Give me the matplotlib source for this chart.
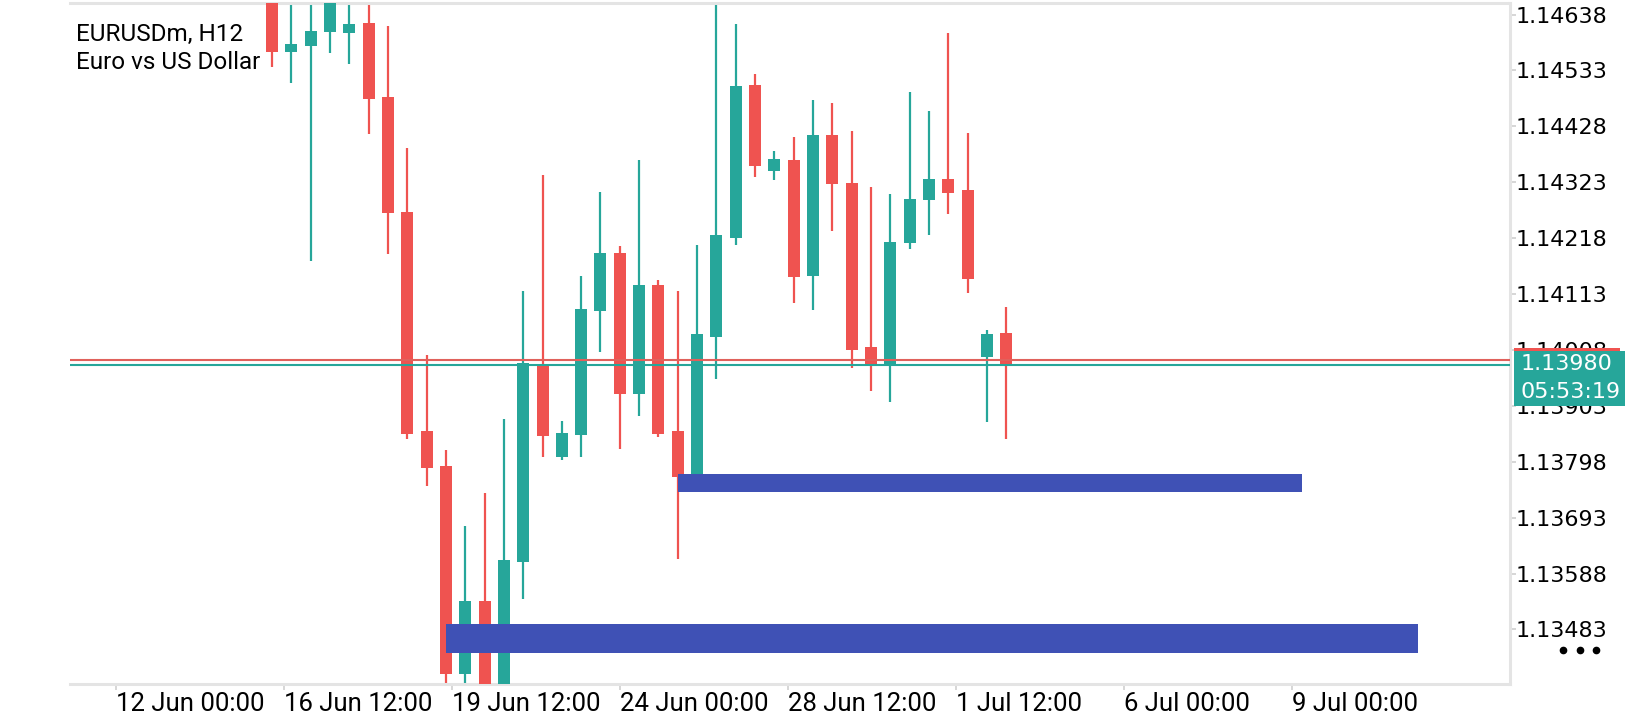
import matplotlib
matplotlib.use("Agg")
import matplotlib.pyplot as plt
from matplotlib.patches import Rectangle
from matplotlib.lines import Line2D

# EURUSDm H12 candles, oldest first (the view cuts some of them at top/bottom)
opens = [1.14675, 1.14568, 1.14579, 1.14605, 1.14603, 1.14622, 1.14483, 1.14267, 1.13856, 1.13790,
         1.13399, 1.13537, 1.13351, 1.13610, 1.13980, 1.13807, 1.13848, 1.14081, 1.14190, 1.13925,
         1.14130, 1.13856, 1.13771, 1.14032, 1.14218, 1.14506, 1.14344, 1.14365, 1.14147, 1.14412,
         1.14322, 1.14014, 1.13980, 1.14209, 1.14290, 1.14329, 1.14308, 1.13995, 1.14040]
highs = [1.14693, 1.14684, 1.14684, 1.14688, 1.14680, 1.14675, 1.14616, 1.14387, 1.13999, 1.13820,
         1.13677, 1.13739, 1.13878, 1.14119, 1.14337, 1.13875, 1.14147, 1.14305, 1.14203, 1.14365,
         1.14139, 1.14119, 1.14205, 1.14656, 1.14620, 1.14526, 1.14382, 1.14408, 1.14477, 1.14472,
         1.14419, 1.14314, 1.14301, 1.14492, 1.14457, 1.14603, 1.14415, 1.14046, 1.14089]
lows = [1.14539, 1.14509, 1.14175, 1.14566, 1.14545, 1.14414, 1.14188, 1.13841, 1.13753, 1.13373,
        1.13377, 1.13341, 1.13332, 1.13540, 1.13807, 1.13801, 1.13807, 1.14004, 1.13822, 1.13884,
        1.13845, 1.13615, 1.13768, 1.13953, 1.14205, 1.14333, 1.14327, 1.14096, 1.14083, 1.14231,
        1.13974, 1.13931, 1.13910, 1.14198, 1.14224, 1.14263, 1.14115, 1.13873, 1.13841]
closes = [1.14568, 1.14583, 1.14607, 1.14669, 1.14620, 1.14479, 1.14265, 1.13850, 1.13786, 1.13399,
          1.13537, 1.13351, 1.13614, 1.13984, 1.13846, 1.13852, 1.14085, 1.14190, 1.13925, 1.14130,
          1.13850, 1.13769, 1.14038, 1.14224, 1.14504, 1.14353, 1.14367, 1.14145, 1.14412, 1.14320,
          1.14008, 1.13980, 1.14211, 1.14292, 1.14329, 1.14303, 1.14141, 1.14038, 1.13980]

# blue zones (bar index from / to, price low / high)
zone_start = [21.0, 9.0]
zone_end = [53.3, 59.3]
zone_low = [1.13741, 1.13439]
zone_high = [1.13775, 1.13493]

bid = 1.13980
ask = 1.13989
countdown = "05:53:19"

price_ticks = [1.14638, 1.14533, 1.14428, 1.14323, 1.14218, 1.14113,
               1.14008, 1.13903, 1.13798, 1.13693, 1.13588, 1.13483]
time_labels = ["12 Jun 00:00", "16 Jun 12:00", "19 Jun 12:00", "24 Jun 00:00",
               "28 Jun 12:00", "1 Jul 12:00", "6 Jul 00:00", "9 Jul 00:00"]
time_ticks = [-8.1, 0.6, 9.3, 18.0, 26.7, 35.4, 44.1, 52.8]

UP = "#26A69A"
DOWN = "#EF5350"
ZONE = "#3F51B5"
GRID = "#E4E4E4"

W, H = 1640, 720
fig = plt.figure(figsize=(W / 100, H / 100), dpi=100)
ax = fig.add_axes([70 / W, 1 - 684 / H, (1510 - 70) / W, (684 - 3) / H])

idx = list(range(len(opens)))
cols = [UP if c >= o else DOWN for o, c in zip(opens, closes)]
bottoms = [min(o, c) for o, c in zip(opens, closes)]
heights = [max(abs(c - o), 0.000006) for o, c in zip(opens, closes)]

ax.vlines(idx, lows, highs, colors=cols, linewidth=1.6, zorder=2)
ax.bar(idx, heights, bottom=bottoms, width=0.62, color=cols, linewidth=0, zorder=3)

for x0, x1, lo, hi in zip(zone_start, zone_end, zone_low, zone_high):
    ax.add_patch(Rectangle((x0, lo), x1 - x0, hi - lo, facecolor=ZONE, edgecolor="none", zorder=4))

ax.axhline(ask, color="#E0615C", linewidth=1.5, zorder=5)
ax.axhline(bid, color=UP, linewidth=1.5, zorder=5)

ax.set_xlim(-10.46, 64.08)
ax.set_ylim(1.133806, 1.146596)

for side in ["top", "right", "bottom"]:
    ax.spines[side].set_color(GRID)
    ax.spines[side].set_linewidth(2.2)
ax.spines["left"].set_visible(False)

ax.yaxis.tick_right()
ax.set_yticks(price_ticks)
ax.set_yticklabels([f"{p:.5f}" for p in price_ticks], fontsize=16, family="DejaVu Sans")
ax.tick_params(axis="y", length=4, width=1.2, color="#D0D0D0", pad=0)

ax.set_xticks(time_ticks)
ax.set_xticklabels(time_labels, fontsize=18.5, family="Roboto")
for lbl in ax.get_xticklabels():
    lbl.set_ha("left")
ax.tick_params(axis="x", length=4, width=1.2, color="#D0D0D0", pad=2)

fig.text(76 / W, 1 - 41 / H, "EURUSDm, H12", fontsize=17.5, family="Roboto", va="baseline")
fig.text(76 / W, 1 - 69 / H, "Euro vs US Dollar", fontsize=17.5, family="Roboto", va="baseline")

# current price box on the right scale, anchored to the bid line
fig.canvas.draw()
_, y_bid = fig.transFigure.inverted().transform(ax.transData.transform((0, bid)))
box_top = y_bid + 14 / H
fig.add_artist(Rectangle((1514 / W, box_top - 55 / H), 111 / W, 55 / H,
                         transform=fig.transFigure, facecolor=UP, edgecolor="none"))
fig.add_artist(Rectangle((1514 / W, box_top), 106 / W, 3 / H,
                         transform=fig.transFigure, facecolor=DOWN, edgecolor="none"))
fig.text(1521 / W, y_bid + 1 / H, f"{bid:.5f}", color="white", fontsize=16,
         family="DejaVu Sans", va="center")
fig.text(1521 / W, y_bid - 27 / H, countdown, color="white", fontsize=16,
         family="DejaVu Sans", va="center")

# the three-dot menu under the scale
fig.add_artist(Line2D([1563 / W, 1580 / W, 1596 / W], [1 - 650 / H] * 3,
                      transform=fig.transFigure, marker="o", linestyle="", ms=4.5, color="black"))

fig.savefig("out.png", dpi=100, facecolor="white")
